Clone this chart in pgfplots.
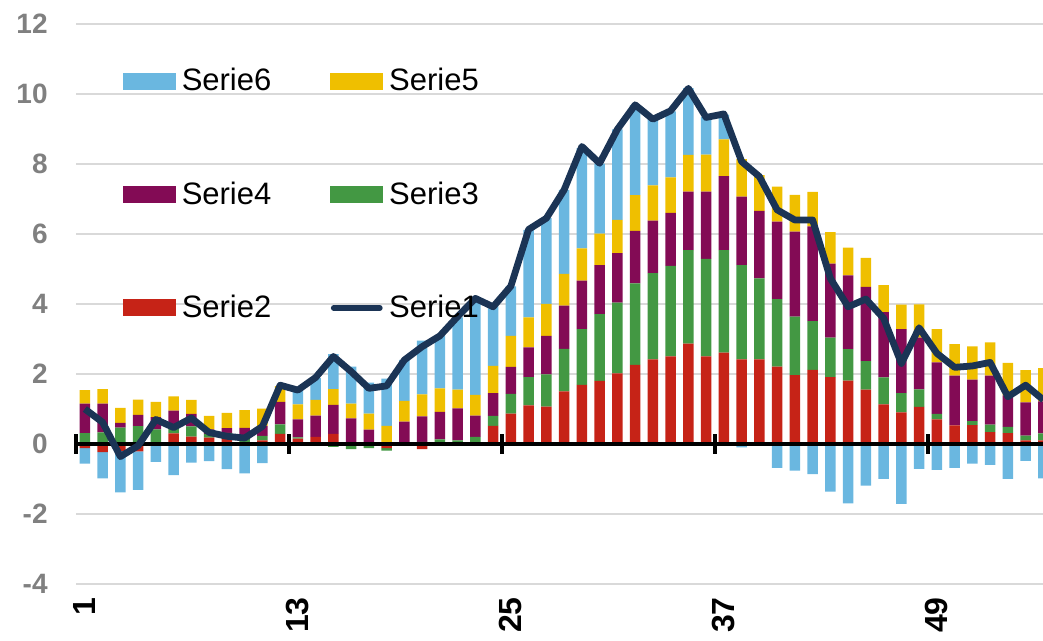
\documentclass[border=0pt]{standalone}
\usepackage{fontspec}
\setmainfont{Liberation Sans}
\usepackage{pgfplots}
\usepackage{pgfplotstable}
\pgfplotsset{compat=1.18}
\definecolor{cS6}{HTML}{6AB7E0}
\definecolor{cS5}{HTML}{EFBF00}
\definecolor{cS4}{HTML}{830B55}
\definecolor{cS3}{HTML}{439843}
\definecolor{cS2}{HTML}{C62317}
\definecolor{cS1}{HTML}{1B3455}
\definecolor{gridc}{HTML}{D9D9D9}
\definecolor{labc}{HTML}{808080}

\pgfplotstableread{
x p2 p3 p4 p5 p6 n2 n3 n4 n5 n6 s1
1 0 0.31 0.84 0.39 0 -0.12 0 0 0 -0.44 1.00
2 0 0.33 0.82 0.42 0 -0.23 0 0 0 -0.75 0.62
3 0 0.47 0.13 0.43 0 -0.20 0 0 0 -1.18 -0.36
4 0 0.51 0.32 0.44 0 -0.21 0 0 0 -1.10 -0.05
5 0 0.42 0.35 0.43 0 0 0 0 0 -0.51 0.70
6 0.30 0.18 0.47 0.41 0 0 0 0 0 -0.89 0.47
7 0.21 0.29 0.36 0.40 0 0 0 0 0 -0.53 0.74
8 0.18 0.11 0.13 0.38 0 0 0 0 0 -0.49 0.33
9 0.15 0.17 0.13 0.44 0 0 0 0 0 -0.72 0.22
10 0.05 0.18 0.23 0.51 0 0 0 0 0 -0.84 0.17
11 0.10 0.13 0.28 0.50 0 0 0 0 0 -0.55 0.50
12 0.29 0.27 0.64 0.45 0 0 0 0 0 0 1.68
13 0.15 0.04 0.51 0.43 0.43 0 0 0 0 0 1.54
14 0.20 0 0.61 0.45 0.62 0 0 0 0 0 1.90
15 0.29 0 0.83 0.45 1.00 0 -0.08 0 0 0 2.50
16 0 0 0.73 0.42 1.06 0 -0.15 0 0 0 2.07
17 0 0 0.41 0.46 0.88 0 -0.12 0 0 0 1.59
18 0 0 0 0.52 1.35 -0.12 -0.07 0 0 0 1.66
19 0 0 0.64 0.59 1.17 0 0 0 0 0 2.40
20 0 0.06 0.73 0.63 1.53 -0.15 0 0 0 0 2.78
21 0 0.13 0.79 0.67 1.50 0 0 0 0 0 3.09
22 0 0.10 0.92 0.53 2.07 0 0 0 0 0 3.64
23 0 0.20 0.61 0.59 2.76 0 0 0 0 0 4.16
24 0.52 0.28 0.65 0.78 1.70 0 0 0 0 0 3.92
25 0.87 0.56 0.77 0.89 1.41 0 0 0 0 0 4.51
26 1.10 0.81 0.85 0.86 2.50 0 0 0 0 0 6.13
27 1.07 0.92 1.10 0.91 2.45 0 0 0 0 0 6.45
28 1.50 1.22 1.23 0.91 2.40 0 0 0 0 0 7.26
29 1.69 1.59 1.39 0.92 2.86 0 0 0 0 0 8.50
30 1.80 1.91 1.40 0.90 2.00 0 0 0 0 0 8.02
31 2.02 2.02 1.41 0.95 2.59 0 0 0 0 0 8.99
32 2.26 2.33 1.50 1.02 2.57 0 0 0 0 0 9.69
33 2.42 2.46 1.50 1.01 1.90 0 0 0 0 0 9.28
34 2.50 2.59 1.51 1.02 1.88 0 0 0 0 0 9.52
35 2.87 2.67 1.67 1.05 1.91 0 0 0 0 0 10.16
36 2.50 2.79 1.92 1.06 1.07 0 0 0 0 0 9.33
37 2.61 2.93 2.11 1.05 0.71 0 0 0 0 0 9.43
38 2.42 2.69 1.96 1.07 0 0 0 0 0 -0.10 8.07
39 2.42 2.31 1.93 1.02 0 0 0 0 0 0 7.64
40 2.21 1.93 2.21 1.00 0 0 0 0 0 -0.68 6.69
41 1.97 1.67 2.43 1.05 0 0 0 0 0 -0.76 6.40
42 2.12 1.39 2.71 0.98 0 0 0 0 0 -0.86 6.40
43 1.91 1.13 2.11 0.90 0 0 0 0 0 -1.36 4.73
44 1.81 0.90 2.11 0.79 0 0 0 0 0 -1.70 3.92
45 1.55 0.82 2.12 0.83 0 0 0 0 0 -1.19 4.14
46 1.13 0.77 1.87 0.77 0 0 0 0 0 -1.00 3.59
47 0.90 0.55 1.83 0.70 0 0 0 0 0 -1.71 2.30
48 1.06 0.50 1.48 0.95 0 0 0 0 0 -0.71 3.32
49 0.70 0.16 1.47 0.95 0 0 0 0 0 -0.74 2.59
50 0.53 0 1.42 0.90 0 0 0 0 0 -0.68 2.19
51 0.54 0.11 1.19 0.95 0 0 0 0 0 -0.56 2.23
52 0.34 0.21 1.40 0.95 0 0 0 0 0 -0.60 2.33
53 0.31 0.18 0.90 0.93 0 0 0 0 0 -1.00 1.35
54 0.10 0.14 0.95 0.92 0 0 0 0 0 -0.48 1.68
55 0.10 0.20 0.92 0.95 0 0 0 0 0 -0.98 1.26
}\data

\pgfplotsset{
  common/.style={
    scale only axis, width=488.125pt, height=280pt,
    xmin=0.5, xmax=55.5, ymin=-4, ymax=12,
    at={(38pt,28.5pt)}, anchor=south west,
  },
  barstyle/.style={fill=#1, draw=none},
}

\begin{document}
\begin{tikzpicture}
\useasboundingbox (0,0) rectangle (521.5pt,320.5pt);

% axis 1: grid, labels, positive parts
\begin{axis}[common,
  ybar stacked, bar width=5.2pt,
  axis line style={draw=none},
  tick style={draw=none},
  ymajorgrids, grid style={gridc, line width=1pt},
  ytick={-4,-2,0,2,4,6,8,10,12},
  yticklabels={-4,-2,0,2,4,6,8,10,12},
  xtick={1,13,25,37,49},
  xticklabels={1,13,25,37,49},
  yticklabel style={font=\fontsize{14}{14}\selectfont\bfseries, text=labc, anchor=east, inner sep=0pt},
  yticklabel shift=14pt,
  xticklabel style={font=\fontsize{16}{16}\selectfont\bfseries, text=black, rotate=90, anchor=east, inner sep=0pt},
  xticklabel shift=6.5pt,
]
\addplot[barstyle=cS2] table[x=x, y=p2] {\data};
\addplot[barstyle=cS3] table[x=x, y=p3] {\data};
\addplot[barstyle=cS4] table[x=x, y=p4] {\data};
\addplot[barstyle=cS5] table[x=x, y=p5] {\data};
\addplot[barstyle=cS6] table[x=x, y=p6] {\data};
\end{axis}

% axis 2: negative parts and zero line
\begin{axis}[common,
  ybar stacked, bar width=5.2pt,
  axis x line=middle, axis y line=none,
  x axis line style={-, line width=2.4pt, black},
  xtick={0.5,12.5,24.5,36.5,48.5},
  xticklabels={,,,,},
  ytick=\empty,
  major tick length=10pt, tick align=center,
  x tick style={line width=2pt, black},
  axis on top,
]
\addplot[barstyle=cS2] table[x=x, y=n2] {\data};
\addplot[barstyle=cS3] table[x=x, y=n3] {\data};
\addplot[barstyle=cS4] table[x=x, y=n4] {\data};
\addplot[barstyle=cS5] table[x=x, y=n5] {\data};
\addplot[barstyle=cS6] table[x=x, y=n6] {\data};
\end{axis}

% axis 3: total line and legend
\begin{axis}[common,
  hide axis,
  legend columns=2,
  legend cell align=left,
  legend style={draw=none, fill=none, inner sep=0pt, outer sep=0pt,
    at={(0.0481,0.921)}, anchor=north west,
    font=\fontsize{15.5}{15.5}\selectfont,
    nodes={inner sep=0pt},
    row sep=44pt,
    /tikz/every odd column/.append style={column sep=3pt},
    /tikz/every even column/.append style={column sep=29.5pt}},
]
\addplot[cS1, line width=3.4pt, line join=round, mark=none, forget plot] table[x=x, y=s1] {\data};
\addlegendimage{legend image code/.code={\fill[cS6] (0pt,-4pt) rectangle (26pt,4pt);}}
\addlegendentry{Serie6}
\addlegendimage{legend image code/.code={\fill[cS5] (0pt,-4pt) rectangle (26pt,4pt);}}
\addlegendentry{Serie5}
\addlegendimage{legend image code/.code={\fill[cS4] (0pt,-4pt) rectangle (26pt,4pt);}}
\addlegendentry{Serie4}
\addlegendimage{legend image code/.code={\fill[cS3] (0pt,-4pt) rectangle (26pt,4pt);}}
\addlegendentry{Serie3}
\addlegendimage{legend image code/.code={\fill[cS2] (0pt,-4pt) rectangle (26pt,4pt);}}
\addlegendentry{Serie2}
\addlegendimage{legend image code/.code={\draw[cS1, line width=2.9pt, line cap=round] (1.5pt,0pt) -- (24.5pt,0pt);}}
\addlegendentry{Serie1}
\end{axis}
\end{tikzpicture}
\end{document}
